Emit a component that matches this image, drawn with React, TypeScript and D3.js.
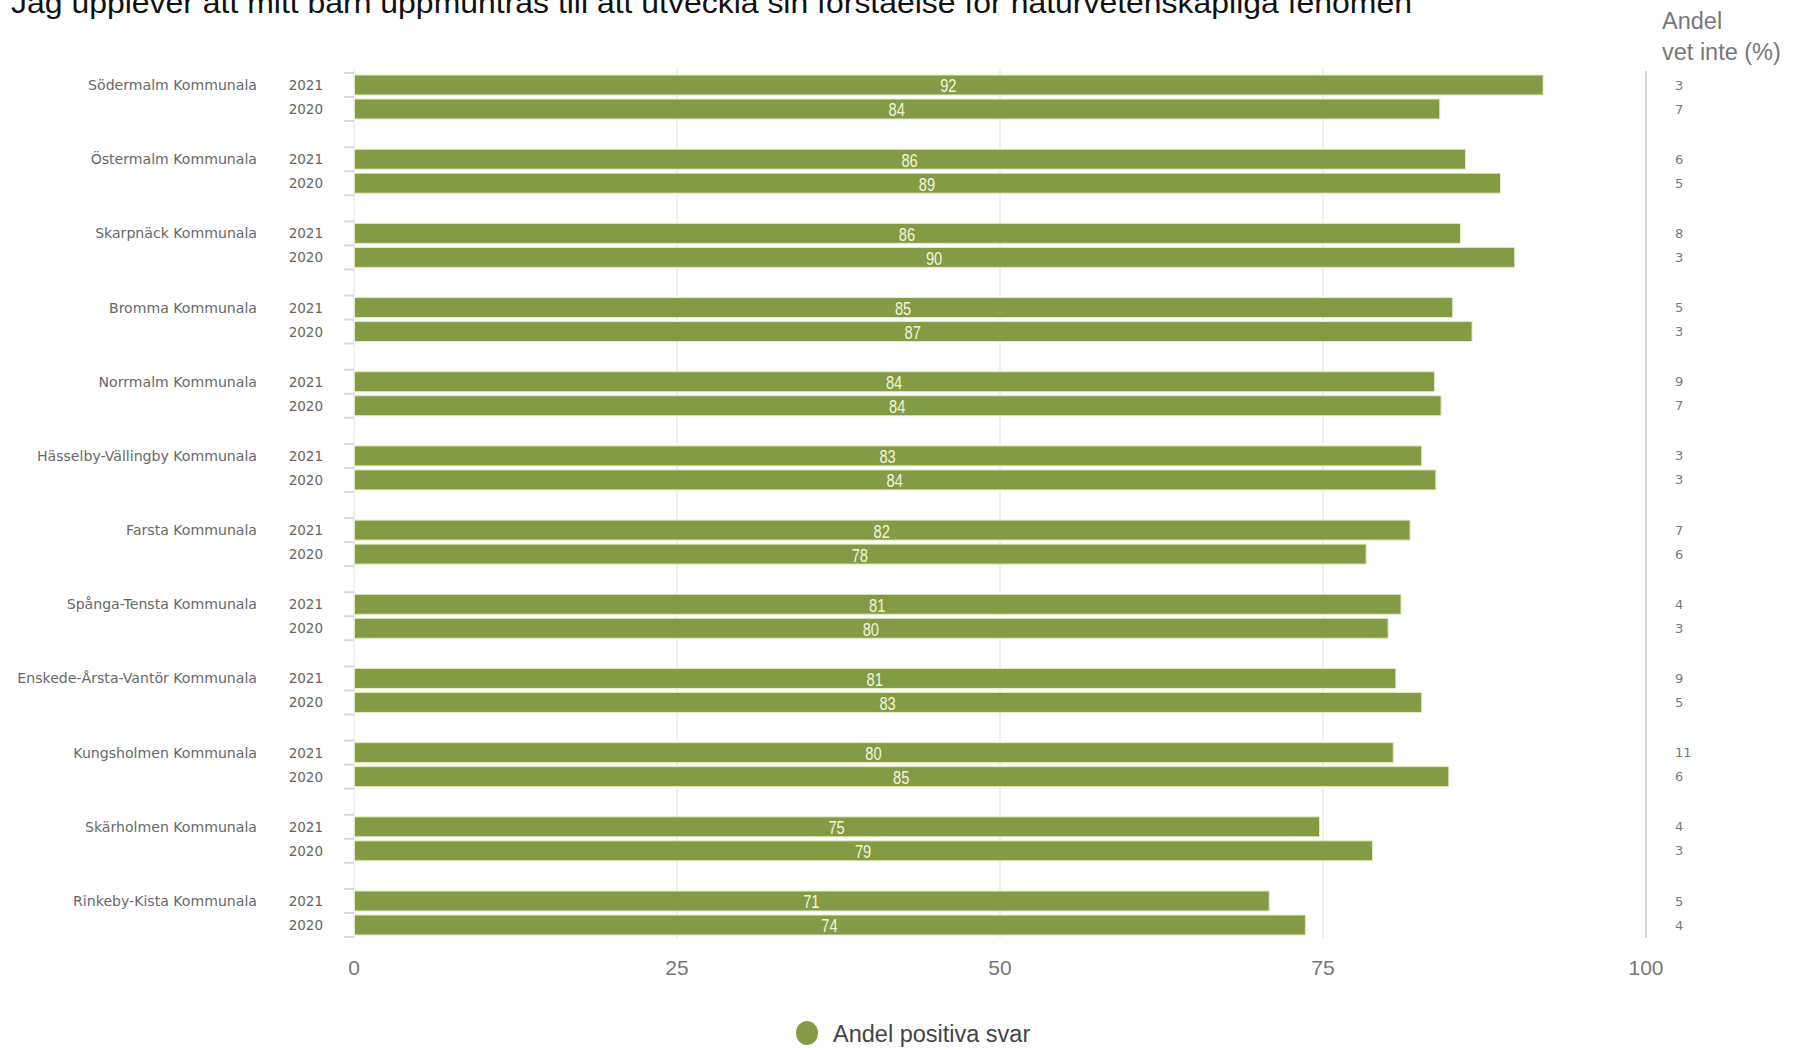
import React from "react";
import * as d3 from "d3";

const title =
  "Jag upplever att mitt barn uppmuntras till att utveckla sin förståelse för naturvetenskapliga fenomen";
const categories = [
  "Södermalm Kommunala",
  "Östermalm Kommunala",
  "Skarpnäck Kommunala",
  "Bromma Kommunala",
  "Norrmalm Kommunala",
  "Hässelby-Vällingby Kommunala",
  "Farsta Kommunala",
  "Spånga-Tensta Kommunala",
  "Enskede-Årsta-Vantör Kommunala",
  "Kungsholmen Kommunala",
  "Skärholmen Kommunala",
  "Rinkeby-Kista Kommunala",
];
const years = ["2021", "2020"];
const positive2021 = [92.0, 86.0, 85.6, 85.0, 83.6, 82.6, 81.7, 81.0, 80.6, 80.4, 74.7, 70.8];
const positive2020 = [84.0, 88.7, 89.8, 86.5, 84.1, 83.7, 78.3, 80.0, 82.6, 84.7, 78.8, 73.6];
const dontKnow2021 = [3, 6, 8, 5, 9, 3, 7, 4, 9, 11, 4, 5];
const dontKnow2020 = [7, 5, 3, 3, 7, 3, 6, 3, 5, 6, 3, 4];
const xTicks = [0, 25, 50, 75, 100];
const sideHeader = ["Andel", "vet inte (%)"];
const legendLabel = "Andel positiva svar";

const GREEN = "#849b46";
const SANS = "'Liberation Sans', Arial, sans-serif";
const SMALL = "'DejaVu Sans', Verdana, sans-serif";
const fmt = d3.format(".0f");

export default function App() {
  const x = d3.scaleLinear().domain([0, 100]).range([354, 1646]);
  const g = d3.scalePoint<string>().domain(categories).range([97, 913]);
  const yr = d3.scaleBand<string>().domain(years).range([-24, 24]);
  const barH = 20;
  const top = g(categories[0])! - 28;
  const bottom = g(categories[categories.length - 1])! + 25;

  const rows = categories.flatMap((c, i) =>
    years.map((y) => ({
      cat: c,
      year: y,
      v: y === "2021" ? positive2021[i] : positive2020[i],
      dk: y === "2021" ? dontKnow2021[i] : dontKnow2020[i],
      cy: g(c)! + yr(y)! + yr.bandwidth() / 2,
    }))
  );

  return (
    <svg
      width={1800}
      height={1050}
      style={{ position: "absolute", left: 0, top: 0, background: "#fff" }}
    >
      <text
        x={11}
        y={13}
        fontFamily={SANS}
        fontSize={30}
        fill="#111"
        textLength={1401}
        lengthAdjust="spacingAndGlyphs"
      >
        {title}
      </text>

      {/* gridlines */}
      {xTicks.slice(1, 4).map((t) => (
        <line
          key={t}
          x1={x(t)}
          x2={x(t)}
          y1={top}
          y2={bottom}
          stroke="#ececec"
          strokeWidth={1.5}
        />
      ))}
      <line x1={x(100)} x2={x(100)} y1={top + 2} y2={bottom} stroke="#d4d6dc" strokeWidth={2} />
      <line x1={x(0)} x2={x(0)} y1={top} y2={bottom} stroke="#e2e4e8" strokeWidth={1} />

      {/* y ticks */}
      {categories.map((c) =>
        [-24, 0, 24].map((o) => (
          <line
            key={c + o}
            x1={x(0) - 10}
            x2={x(0)}
            y1={g(c)! + o}
            y2={g(c)! + o}
            stroke="#d6d9de"
            strokeWidth={2}
          />
        ))
      )}

      {/* category labels */}
      {categories.map((c) => (
        <text
          key={c}
          x={257}
          y={g(c)! + yr("2021")! + yr.bandwidth() / 2}
          textAnchor="end"
          dominantBaseline="central"
          fontFamily={SMALL}
          fontSize={14.1}
          fill="#686868"
        >
          {c}
        </text>
      ))}

      {rows.map((r) => (
        <g key={r.cat + r.year}>
          <text
            x={323}
            y={r.cy}
            textAnchor="end"
            dominantBaseline="central"
            fontFamily={SMALL}
            fontSize={13.5}
            fill="#666"
          >
            {r.year}
          </text>
          <rect
            x={x(0) + 0.5}
            y={r.cy - barH / 2}
            width={x(r.v) - x(0)}
            height={barH}
            fill={GREEN}
            stroke="#e6edc4"
            strokeWidth={1}
          />
          <text
            transform={`translate(${(x(0) + x(r.v)) / 2},${r.cy + 1}) scale(0.84,1)`}
            textAnchor="middle"
            dominantBaseline="central"
            fontFamily={SANS}
            fontSize={17.5}
            fill="#f3f5dc"
          >
            {fmt(r.v)}
          </text>
          <text
            x={1675}
            y={r.cy}
            dominantBaseline="central"
            fontFamily={SMALL}
            fontSize={13}
            fill="#777"
          >
            {r.dk}
          </text>
        </g>
      ))}

      {/* x axis labels */}
      {xTicks.map((t) => (
        <text
          key={t}
          x={x(t)}
          y={967}
          textAnchor="middle"
          dominantBaseline="central"
          fontFamily={SANS}
          fontSize={21}
          fill="#777"
        >
          {t}
        </text>
      ))}

      {/* side header */}
      {sideHeader.map((s, i) => (
        <text
          key={s}
          x={1662}
          y={21 + i * 31}
          dominantBaseline="central"
          fontFamily={SANS}
          fontSize={23.5}
          fill="#777"
        >
          {s}
        </text>
      ))}

      {/* legend */}
      <ellipse cx={807} cy={1033} rx={11} ry={12} fill={GREEN} />
      <text
        x={833}
        y={1034}
        dominantBaseline="central"
        fontFamily={SANS}
        fontSize={23.5}
        fill="#444"
      >
        {legendLabel}
      </text>
    </svg>
  );
}
